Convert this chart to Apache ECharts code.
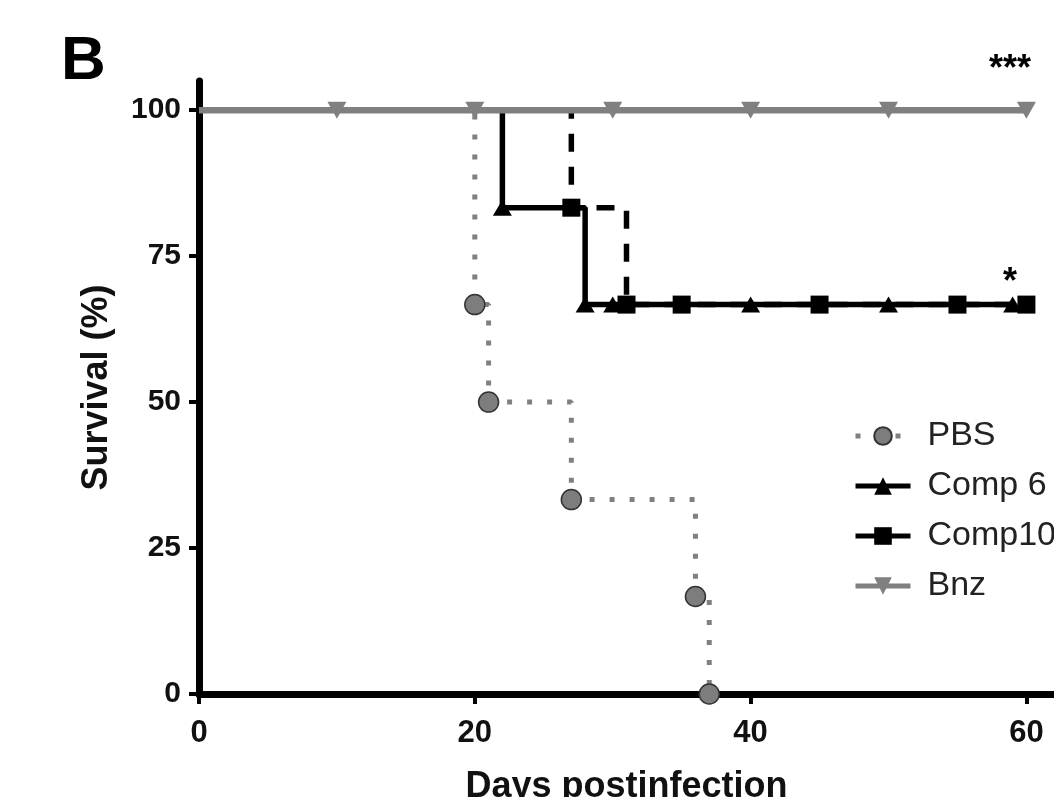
<!DOCTYPE html>
<html>
<head>
<meta charset="utf-8">
<script src="https://cdn.jsdelivr.net/npm/echarts@6/dist/echarts.min.js"></script>
<style>
  html, body { margin: 0; padding: 0; background: #fff; }
  #chart { width: 1054px; height: 797px; }
</style>
</head>
<body>
<div id="chart"></div>
<script>
// survival data (Kaplan-Meier steps), days / percent
var seriesNames = ['PBS', 'Comp 6', 'Comp10', 'Bnz'];
var pbsDays = [0, 20, 21, 27, 36, 37];
var pbsSurv = [100, 66.7, 50, 33.3, 16.7, 0];
var comp6Days = [0, 22, 28, 30, 40, 50, 59];
var comp6Surv = [100, 83.3, 66.7, 66.7, 66.7, 66.7, 66.7];
var comp10Days = [0, 27, 31, 35, 45, 55, 60];
var comp10Surv = [100, 83.3, 66.7, 66.7, 66.7, 66.7, 66.7];
var bnzDays = [0, 10, 20, 30, 40, 50, 60];
var bnzSurv = [100, 100, 100, 100, 100, 100, 100];
var xTicks = [0, 20, 40, 60];
var yTicks = [0, 25, 50, 75, 100];

var FONT = '"Liberation Sans", Arial, sans-serif';

function toPoints(days, surv) {
  return days.map(function (d, i) {
    var p = { value: [d, surv[i]] };
    if (i === 0) p.symbol = 'none';
    return p;
  });
}

var myChart = echarts.init(document.getElementById('chart'));
myChart.setOption({
  animation: false,
  backgroundColor: '#fff',
  grid: { left: 199, right: 0, top: 81, bottom: 103, containLabel: false, outerBoundsMode: 'none' },
  legend: {
    orient: 'vertical',
    left: 848,
    top: 414,
    itemWidth: 55,
    itemHeight: 22,
    itemGap: 16,
    // legend shows all icons as solid lines
    data: seriesNames.map(function (n) {
      return n === 'Comp10' ? { name: n, lineStyle: { type: 'solid' } } : n;
    }),
    lineStyle: { width: 5 },
    textStyle: {
      fontFamily: FONT,
      fontSize: 34,
      color: '#222',
      lineHeight: 34,
      padding: [0, 0, 0, 12]
    }
  },
  graphic: [
    { type: 'text', left: 61, top: 31,
      style: { text: 'B', font: 'bold 62px ' + FONT, fill: '#000' } },
    { type: 'text', x: 1010, y: 70,
      style: { text: '***', font: 'bold 36px ' + FONT, fill: '#000', align: 'center', verticalAlign: 'middle' } },
    { type: 'text', x: 1010, y: 283,
      style: { text: '*', font: 'bold 36px ' + FONT, fill: '#000', align: 'center', verticalAlign: 'middle' } }
  ],
  xAxis: {
    type: 'value',
    min: 0,
    max: 62,
    name: 'Days postinfection',
    nameLocation: 'middle',
    nameGap: 75,
    nameTextStyle: { fontFamily: FONT, fontSize: 36, fontWeight: 'bold', color: '#111' },
    splitLine: { show: false },
    axisLine: { show: true, onZero: false, lineStyle: { color: '#000', width: 7 } },
    axisTick: { show: true, length: 10, lineStyle: { color: '#000', width: 4 }, customValues: xTicks },
    axisLabel: { customValues: xTicks, margin: 24, fontFamily: FONT, fontSize: 31, fontWeight: 'bold', color: '#111' }
  },
  yAxis: {
    type: 'value',
    min: 0,
    max: 105,
    name: 'Survival (%)',
    nameLocation: 'middle',
    nameGap: 84,
    nameTextStyle: { fontFamily: FONT, fontSize: 36, fontWeight: 'bold', color: '#111' },
    splitLine: { show: false },
    axisLine: { show: true, onZero: false, lineStyle: { color: '#000', width: 7 } },
    axisTick: { show: true, length: 10, lineStyle: { color: '#000', width: 4 }, customValues: yTicks },
    axisLabel: { customValues: yTicks, margin: 18, fontFamily: FONT, fontSize: 30, fontWeight: 'bold', color: '#111' }
  },
  series: [
    {
      name: 'PBS',
      type: 'line',
      step: 'end',
      data: toPoints(pbsDays, pbsSurv),
      symbol: 'circle',
      symbolSize: 20,
      lineStyle: { color: '#808080', width: 5, type: [5, 15] },
      itemStyle: { color: '#7d7d7d', borderColor: '#333', borderWidth: 1.5 }
    },
    {
      name: 'Comp 6',
      type: 'line',
      step: 'end',
      data: toPoints(comp6Days, comp6Surv),
      symbol: 'triangle',
      symbolSize: [19, 16],
      lineStyle: { color: '#000', width: 5.5 },
      itemStyle: { color: '#000' }
    },
    {
      name: 'Comp10',
      type: 'line',
      step: 'end',
      data: toPoints(comp10Days, comp10Surv),
      symbol: 'rect',
      symbolSize: 18,
      lineStyle: { color: '#000', width: 5.5, type: [18, 15] },
      itemStyle: { color: '#000' }
    },
    {
      name: 'Bnz',
      type: 'line',
      step: 'end',
      data: toPoints(bnzDays, bnzSurv),
      symbol: 'triangle',
      symbolRotate: 180,
      symbolSize: [19, 17],
      lineStyle: { color: '#808080', width: 6.5 },
      itemStyle: { color: '#808080' }
    }
  ]
});
</script>
</body>
</html>
